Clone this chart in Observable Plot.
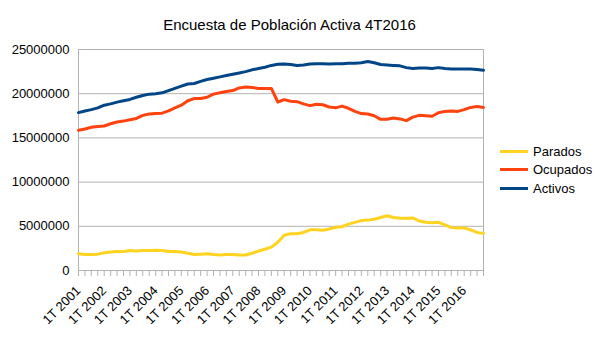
<!DOCTYPE html>
<html><head><meta charset="utf-8">
<script src="https://cdn.jsdelivr.net/npm/d3@7"></script>
<script src="https://cdn.jsdelivr.net/npm/@observablehq/plot@0.6"></script>
<style>
body{margin:0;background:#fff;font-family:"Liberation Sans",Arial,sans-serif;}
#wrap{position:relative;width:605px;height:340px;}
#wrap svg{position:absolute;left:0;top:0;}
#title{position:absolute;left:0;width:579px;top:16px;text-align:center;font-size:15px;color:#000;z-index:2;}
#legend{position:absolute;left:500px;top:142px;font-size:13px;color:#000;z-index:2;}
.item{display:flex;align-items:center;height:18.5px;}
.sw{width:28px;height:3px;margin-right:5px;}
</style></head><body>
<div id="wrap"><div id="title">Encuesta de Población Activa 4T2016</div><div id="legend"></div></div>
<script>
const years = [2001,2002,2003,2004,2005,2006,2007,2008,2009,2010,2011,2012,2013,2014,2015,2016];
const quarterNames = ["1T","2T","3T","4T"];
const categories = years.flatMap(y => quarterNames.map(q => `${q} ${y}`));
const tickLabels = years.map(y => `1T ${y}`);

const parados = [
 1900000,1800000,1800000,1850000, 2000000,2100000,2150000,2150000,
 2250000,2200000,2250000,2250000, 2300000,2250000,2150000,2150000,
 2100000,1950000,1800000,1850000, 1900000,1800000,1750000,1800000,
 1800000,1750000,1750000,1950000, 2200000,2400000,2650000,3200000,
 4000000,4150000,4150000,4300000, 4600000,4600000,4550000,4700000,
 4900000,4950000,5250000,5450000, 5650000,5700000,5800000,6000000,
 6200000,6000000,5900000,5900000, 5950000,5600000,5450000,5400000,
 5450000,5150000,4850000,4800000, 4800000,4600000,4300000,4200000];
const ocupados = [
 15860000,16000000,16200000,16300000, 16350000,16600000,16800000,16900000,
 17050000,17200000,17550000,17700000, 17750000,17800000,18050000,18400000,
 18700000,19200000,19450000,19450000, 19600000,19950000,20100000,20250000,
 20350000,20650000,20750000,20700000, 20600000,20600000,20600000,19060000,
 19330000,19150000,19100000,18850000, 18650000,18800000,18750000,18500000,
 18400000,18600000,18350000,18000000, 17750000,17700000,17500000,17100000,
 17100000,17250000,17150000,16950000, 17350000,17550000,17500000,17450000,
 17850000,18000000,18050000,18000000, 18200000,18450000,18550000,18450000];
const activos = [
 17860000,18050000,18200000,18400000, 18700000,18850000,19050000,19200000,
 19350000,19600000,19800000,19950000, 20000000,20100000,20350000,20600000,
 20850000,21100000,21150000,21400000, 21600000,21750000,21900000,22050000,
 22200000,22350000,22500000,22700000, 22850000,23000000,23200000,23330000,
 23350000,23300000,23200000,23250000, 23350000,23400000,23400000,23350000,
 23400000,23400000,23450000,23450000, 23500000,23650000,23500000,23300000,
 23250000,23200000,23150000,22950000, 22850000,22900000,22900000,22850000,
 22950000,22850000,22800000,22800000, 22800000,22800000,22750000,22650000];

const seriesNames = ["Parados","Ocupados","Activos"];
const seriesColors = ["#ffd320","#ff420e","#004586"];
const seriesValues = [parados, ocupados, activos];
const yTicks = [0,5000000,10000000,15000000,20000000,25000000];

const data = seriesNames.flatMap((s, k) => categories.map((c, i) => ({cat: c, series: s, value: seriesValues[k][i]})));

const chart = Plot.plot({
  width: 605, height: 340,
  marginLeft: 78, marginRight: 122, marginTop: 49, marginBottom: 70,
  style: {fontFamily: '"Liberation Sans", Arial, sans-serif', background: "#fff"},
  x: {type: "point", domain: categories, padding: 0, round: false},
  y: {domain: [0, 25000000]},
  color: {domain: seriesNames, range: seriesColors},
  marks: [
    Plot.gridY(yTicks, {stroke: "#b3b3b3", strokeOpacity: 1}),
    Plot.frame({stroke: "#b3b3b3"}),
    Plot.axisY(yTicks, {tickSize: 0, tickPadding: 9, tickFormat: d3.format("d"), fontSize: 13, label: null, fill: "#000"}),
    Plot.axisX(categories, {tickSize: 6, tickFormat: () => "", label: null, stroke: "#b3b3b3"}),
    Plot.text(tickLabels, {x: d => d, frameAnchor: "bottom", dy: 18, rotate: -45, textAnchor: "end", lineAnchor: "middle", fontSize: 13, fill: "#000"}),
    Plot.line(data, {x: "cat", y: "value", z: "series", stroke: "series", strokeWidth: 3})
  ]
});
document.getElementById("wrap").appendChild(chart);

const legend = document.getElementById("legend");
seriesNames.forEach((s, k) => {
  const it = document.createElement("div"); it.className = "item";
  const sw = document.createElement("div"); sw.className = "sw"; sw.style.background = seriesColors[k];
  const tx = document.createElement("span"); tx.textContent = s;
  it.appendChild(sw); it.appendChild(tx); legend.appendChild(it);
});
</script>
</body></html>
